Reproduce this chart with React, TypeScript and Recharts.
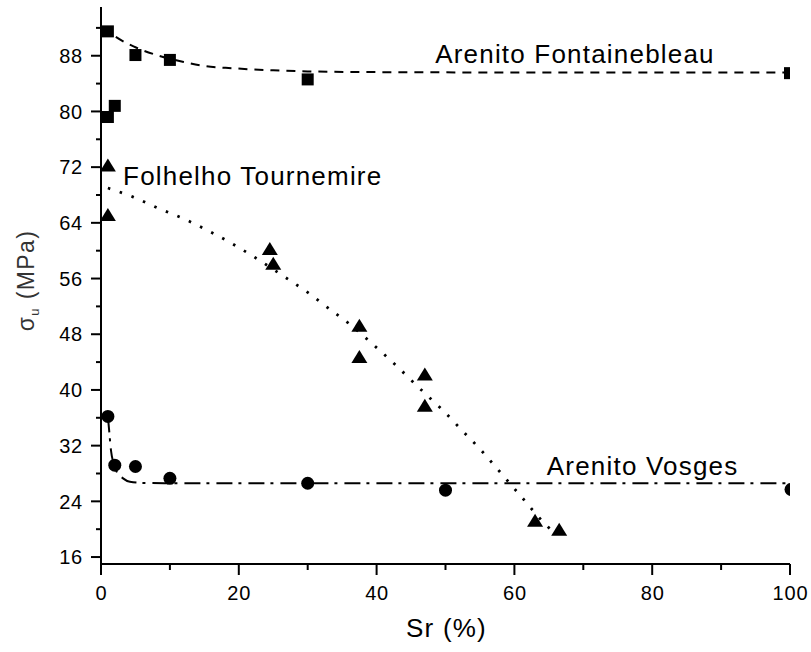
import React from 'react';
import { ComposedChart, Line, Scatter, XAxis, YAxis, ReferenceDot, Label } from 'recharts';

const FONT = '"Liberation Sans", Arial, Helvetica, sans-serif';

// measured points: Sr (%) and sigma_u (MPa)
const fontainebleauSr = [1, 1, 2, 5, 10, 30, 100];
const fontainebleauSigma = [91.5, 79.2, 80.8, 88.1, 87.4, 84.6, 85.5];

const tournemireSr = [1, 1, 24.5, 25, 37.5, 37.5, 47, 47, 63, 66.5];
const tournemireSigma = [72.3, 65.2, 60.3, 58.2, 49.3, 44.8, 42.3, 37.8, 21.3, 20.0];

const vosgesSr = [1, 2, 5, 10, 30, 50, 100];
const vosgesSigma = [36.2, 29.2, 29.0, 27.3, 26.6, 25.6, 25.7];

// fitted curves
const fontainebleauFitSr = [0.3, 2, 4.8, 8.4, 12, 15.2, 19.2, 25, 30, 40, 60, 100];
const fontainebleauFitSigma = [92.1, 90.8, 89.3, 88.0, 87.1, 86.5, 86.2, 85.9, 85.75, 85.65, 85.6, 85.6];

const tournemireFitSr = [1, 4.7, 8.3, 12.2, 15.3, 18.7, 21.9, 26.7, 30, 33.2, 36.4, 39.3, 42.2, 46.7, 49.6, 52.3, 55.2, 58.1, 60.8, 64.7, 66];
const tournemireFitSigma = [69, 67.7, 66.1, 64.5, 63, 61.2, 59.3, 56.2, 54, 51.6, 49.2, 46.7, 44.1, 39.8, 37.1, 34.3, 31.3, 28, 24.9, 20.5, 19.3];

const vosgesFitSr = [1, 1.2, 1.45, 1.8, 2.3, 3.2, 4.2, 6, 10, 100];
const vosgesFitSigma = [36.2, 34, 31.3, 29.5, 28.2, 27.3, 26.8, 26.65, 26.6, 26.6];

// axis ticks
const X_MAX = 100;
const xTicks = [0, 10, 20, 30, 40, 50, 60, 70, 80, 90, 100];
const yTicks = [16, 20, 24, 28, 32, 36, 40, 44, 48, 52, 56, 60, 64, 68, 72, 76, 80, 84, 88, 92];

// curve labels: text, Sr at start, sigma at baseline
const curveLabels = [
  { text: 'Arenito Fontainebleau', sr: 48.5, sigma: 87.0 },
  { text: 'Folhelho Tournemire', sr: 3.2, sigma: 69.4 },
  { text: 'Arenito Vosges', sr: 64.7, sigma: 27.8 },
];

const toPoints = (xs: number[], ys: number[]) => xs.map((x, i) => ({ x, y: ys[i] }));

const YTick = (props: any) => {
  const { x, y, payload } = props;
  const v = payload.value;
  const major = v % 8 === 0;
  return (
    <g>
      <line x1={x} x2={x - (major ? 10 : 5)} y1={y} y2={y} stroke="#000" strokeWidth={2} />
      {major && (
        <text x={x - 18} y={y} dy="0.36em" textAnchor="end" fontSize={20} letterSpacing={0.8} fontFamily={FONT} fill="#000">
          {v}
        </text>
      )}
    </g>
  );
};

const XTick = (props: any) => {
  const { x, y, payload } = props;
  const v = payload.value;
  const major = v % 20 === 0;
  return (
    <g>
      <line x1={x} x2={x} y1={y} y2={y + (major ? 11 : 6)} stroke="#000" strokeWidth={2} />
      {major && (
        <text x={x + 0.5} y={y + 36} textAnchor="middle" fontSize={20} letterSpacing={0.8} fontFamily={FONT} fill="#000">
          {v}
        </text>
      )}
    </g>
  );
};

// points sitting on the right edge are cut in half, as in the original plot
const atEdge = (p: any) => p.payload && p.payload.x >= X_MAX;

const SquareShape = (p: any) => (
  <rect x={p.cx - 6} y={p.cy - 6} width={atEdge(p) ? 7 : 12} height={12} fill="#000" />
);
const TriangleShape = (p: any) => (
  <polygon points={`${p.cx},${p.cy - 6.5} ${p.cx + 8},${p.cy + 6.5} ${p.cx - 8},${p.cy + 6.5}`} fill="#000" />
);
const CircleShape = (p: any) =>
  atEdge(p) ? (
    <path d={`M${p.cx + 1},${p.cy - 6.5} A6.5,6.5 0 0 0 ${p.cx + 1},${p.cy + 6.5} Z`} fill="#000" />
  ) : (
    <circle cx={p.cx} cy={p.cy} r={6.5} fill="#000" />
  );

const CurveLabel = (text: string) => (p: any) => {
  const vb = p.viewBox;
  return (
    <text x={vb.x} y={vb.y} fontSize={26} letterSpacing={1.2} fontFamily={FONT} fill="#000">
      {text}
    </text>
  );
};

export default function App() {
  return (
    <div style={{ position: 'absolute', left: 0, top: 0 }}>
      <ComposedChart width={811} height={652} margin={{ top: 7, right: 21, left: 0, bottom: 0 }}>
        <XAxis
          type="number"
          dataKey="x"
          domain={[0, X_MAX]}
          ticks={xTicks}
          interval={0}
          allowDataOverflow
          height={88}
          tickSize={0}
          tickMargin={0}
          tickLine={false}
          tick={<XTick />}
          axisLine={{ stroke: '#000', strokeWidth: 2 }}
        >
          <Label
            content={(p: any) => (
              <text
                x={p.viewBox.x + p.viewBox.width / 2 + 1}
                y={p.viewBox.y + 73}
                textAnchor="middle"
                fontSize={26}
                letterSpacing={1.2}
                fontFamily={FONT}
                fill="#000"
              >
                Sr (%)
              </text>
            )}
          />
        </XAxis>
        <YAxis
          type="number"
          dataKey="y"
          domain={[15, 95]}
          ticks={yTicks}
          interval={0}
          allowDataOverflow
          width={101}
          tickSize={0}
          tickMargin={0}
          tickLine={false}
          tick={<YTick />}
          axisLine={{ stroke: '#000', strokeWidth: 2 }}
        >
          <Label
            content={(p: any) => {
              const cy = p.viewBox.y + p.viewBox.height / 2 - 5;
              return (
                <text
                  transform={`translate(33.5, ${cy}) rotate(-90)`}
                  textAnchor="middle"
                  fontSize={23}
                  letterSpacing={1.4}
                  fontFamily={FONT}
                  fill="#333"
                >
                  <tspan>σ</tspan>
                  <tspan fontSize={13} dy={5}>u</tspan>
                  <tspan dy={-5}> (MPa)</tspan>
                </text>
              );
            }}
          />
        </YAxis>

        <Line
          data={toPoints(fontainebleauFitSr, fontainebleauFitSigma)}
          dataKey="y"
          type="monotone"
          stroke="#000"
          strokeWidth={2}
          strokeDasharray="9 7"
          dot={false}
          activeDot={false}
          isAnimationActive={false}
        />
        <Line
          data={toPoints(tournemireFitSr, tournemireFitSigma)}
          dataKey="y"
          type="monotone"
          stroke="#000"
          strokeWidth={2.8}
          strokeDasharray="2.5 10"
          dot={false}
          activeDot={false}
          isAnimationActive={false}
        />
        <Line
          data={toPoints(vosgesFitSr, vosgesFitSigma)}
          dataKey="y"
          type="monotone"
          stroke="#000"
          strokeWidth={2}
          strokeDasharray="16 6 3 7"
          dot={false}
          activeDot={false}
          isAnimationActive={false}
        />

        <Scatter data={toPoints(fontainebleauSr, fontainebleauSigma)} shape={SquareShape} isAnimationActive={false} />
        <Scatter data={toPoints(tournemireSr, tournemireSigma)} shape={TriangleShape} isAnimationActive={false} />
        <Scatter data={toPoints(vosgesSr, vosgesSigma)} shape={CircleShape} isAnimationActive={false} />

        {curveLabels.map((c) => (
          <ReferenceDot
            key={c.text}
            x={c.sr}
            y={c.sigma}
            r={0}
            fill="none"
            stroke="none"
            label={CurveLabel(c.text)}
          />
        ))}
      </ComposedChart>
    </div>
  );
}
